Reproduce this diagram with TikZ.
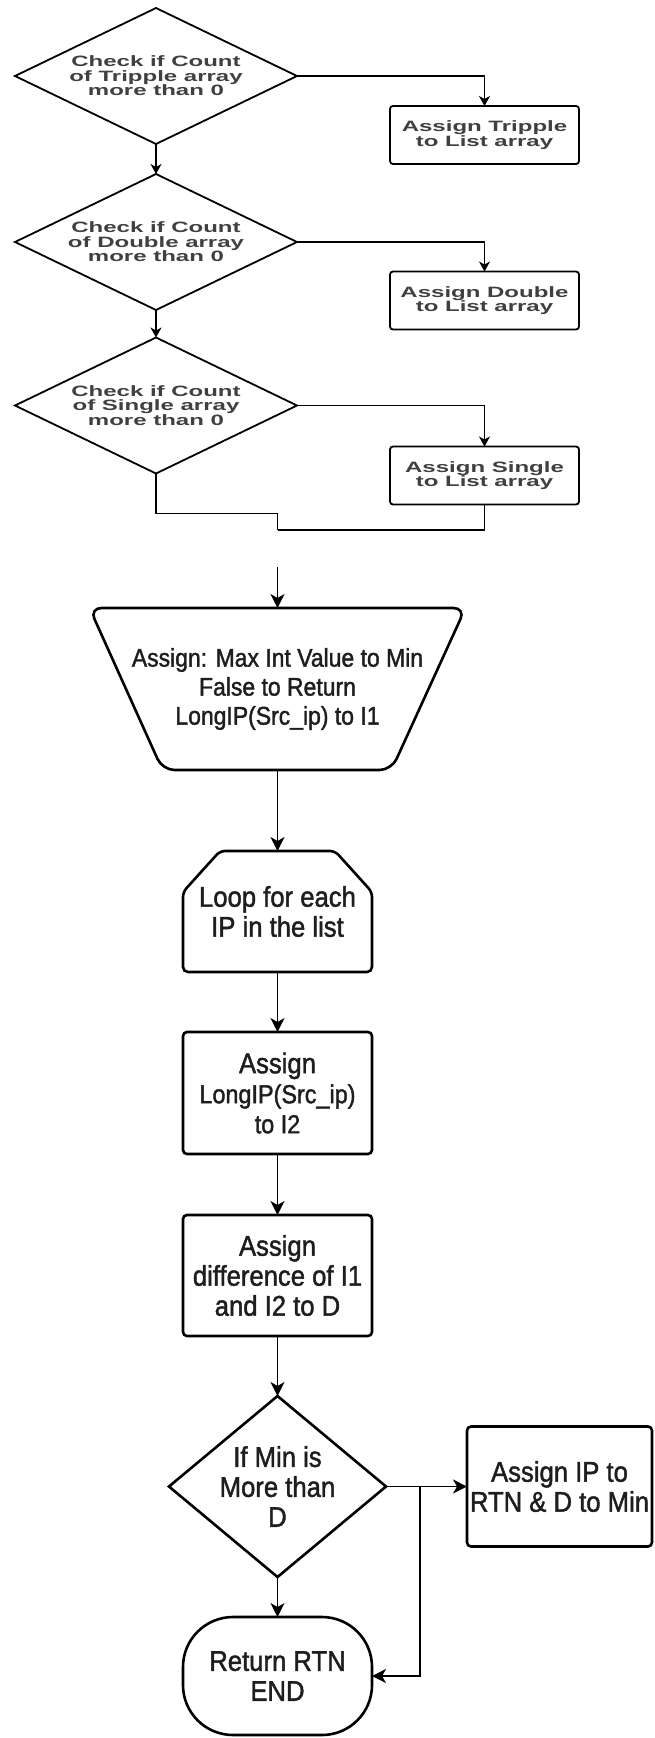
\documentclass[tikz,border=0pt]{standalone}
\usepackage{fontspec}
\setmainfont{Liberation Sans}
\newfontfamily\widefont{Liberation Sans}[FakeStretch=1.6]
\newfontfamily\narrowfont{Liberation Sans}[FakeStretch=0.9,FakeBold=1.5]
\usetikzlibrary{shapes.geometric,arrows.meta,calc}
\definecolor{toptext}{RGB}{64,64,64}
\definecolor{bottext}{RGB}{30,30,30}
\begin{document}
\begin{tikzpicture}[x=1pt,y=-1pt,
  topshape/.style={draw, line width=1.8pt, inner sep=0pt, outer sep=0pt},
  topdia/.style={topshape, diamond, minimum width=282pt, minimum height=136pt},
  toptxt/.style={font={\widefont\bfseries\fontsize{15}{14.6}\selectfont}, text=toptext, align=center, inner sep=0pt},
  topbox/.style={topshape, rectangle, rounded corners=3pt, minimum width=189pt, minimum height=58pt, toptxt},
  toparrow/.style={line width=1.2pt, -{Stealth[length=10pt,width=11pt,inset=3pt]}},
  topline/.style={line width=1.2pt},
  botshape/.style={draw, line width=2.6pt, inner sep=1pt, outer sep=0pt},
  bottxt/.style={font={\narrowfont\fontsize{28.5}{30}\selectfont}, text=bottext, align=center},
  botbox/.style={botshape, rectangle, rounded corners=4pt, minimum width=189pt, minimum height=122pt, bottxt},
  botarrow/.style={line width=1.4pt, -{Stealth[length=14pt,width=14pt,inset=4pt]}},
  borderline/.style={line width=2.6pt}
]
\useasboundingbox[fill=white] (0,0) rectangle (654,1738);

% ---- top part ----
\node[topdia] (d1) at (156,76) {};
\node[toptxt] (t1) at (d1.center) {Check if Count\\of Tripple array\\more than 0};
\node[topbox] (b1) at (484.5,135) {Assign Tripple\\to List array};
\node[topdia] (d2) at (156,242) {};
\node[toptxt] (t2) at (d2.center) {Check if Count\\of Double array\\more than 0};
\node[topbox] (b2) at (484.5,300.5) {Assign Double\\to List array};
\node[topdia] (d3) at (156,405.5) {};
\node[toptxt] (t3) at (d3.center) {Check if Count\\of Single array\\more than 0};
\node[topbox] (b3) at (484.5,475.5) {Assign Single\\to List array};

\draw[toparrow] (d1.east) -| (b1.north);
\draw[toparrow] (d1.south) -- (d2.north);
\draw[toparrow] (d2.east) -| (b2.north);
\draw[toparrow] (d2.south) -- (d3.north);
\draw[toparrow] (d3.east) -| (b3.north);
\coordinate (mj) at (277.5,530);
\draw[topline] (d3.south) -- ++(0,40) -| (mj);
\draw[topline] (b3.south) |- (mj);
\coordinate (st) at (277.5,567);

% ---- bottom part ----
\node[bottxt, font={\narrowfont\fontsize{25.5}{29}\selectfont}, minimum width=376pt, minimum height=162pt, inner sep=0pt, outer sep=0pt] (trap) at (277.5,689) {Assign: Max Int Value to Min\\False to Return\\LongIP(Src\_ip) to I1};
\draw[borderline, rounded corners=12pt] (trap.north) -- (trap.north east) -- ($(trap.south east)+(-74,0)$) -- ($(trap.south west)+(73,0)$) -- (trap.north west) -- cycle;

\node[bottxt, minimum width=189pt, minimum height=121pt, inner sep=0pt, outer sep=0pt] (loop) at (277.5,911.5) {Loop for each\\IP in the list};
\draw[borderline, rounded corners=5pt] (loop.north) -- ($(loop.north east)+(-37,0)$) -- ($(loop.north east)+(0,41)$) -- (loop.south east) -- (loop.south west) -- ($(loop.north west)+(0,41)$) -- ($(loop.north west)+(37,0)$) -- cycle;

\node[botbox] (b4) at (277.5,1093) {Assign\\{\fontsize{26}{28}\selectfont LongIP(Src\_ip)}\\{\fontsize{26}{28}\selectfont to I2}};
\node[botbox, minimum height=121pt] (b5) at (277.5,1275.5) {Assign\\difference of I1\\and I2 to D};
\node[botshape, diamond, minimum width=217pt, minimum height=181pt, inner sep=0pt] (d4) at (277.5,1486.5) {};
\node[bottxt, inner sep=0pt] (t4) at (d4.center) {If Min is\\More than\\D};
\node[botbox, minimum width=185pt, minimum height=120pt] (rtn) at (559.5,1486.5) {Assign IP to\\RTN \& D to Min};
\node[botshape, rectangle, rounded corners=50pt, minimum width=189pt, minimum height=118pt, bottxt] (term) at (277.5,1676) {Return RTN\\END};

\draw[botarrow] (st) -- (trap.north);
\draw[botarrow] (trap.south) -- (loop.north);
\draw[botarrow] (loop.south) -- (b4.north);
\draw[botarrow] (b4.south) -- (b5.north);
\draw[botarrow] (b5.south) -- (d4.north);
\draw[botarrow] (d4.south) -- (term.north);
\draw[botarrow] (d4.east) -- (rtn.west);
\coordinate (br) at (420,1486.5);
\draw[botarrow] (br) |- (term.east);
\end{tikzpicture}
\end{document}
